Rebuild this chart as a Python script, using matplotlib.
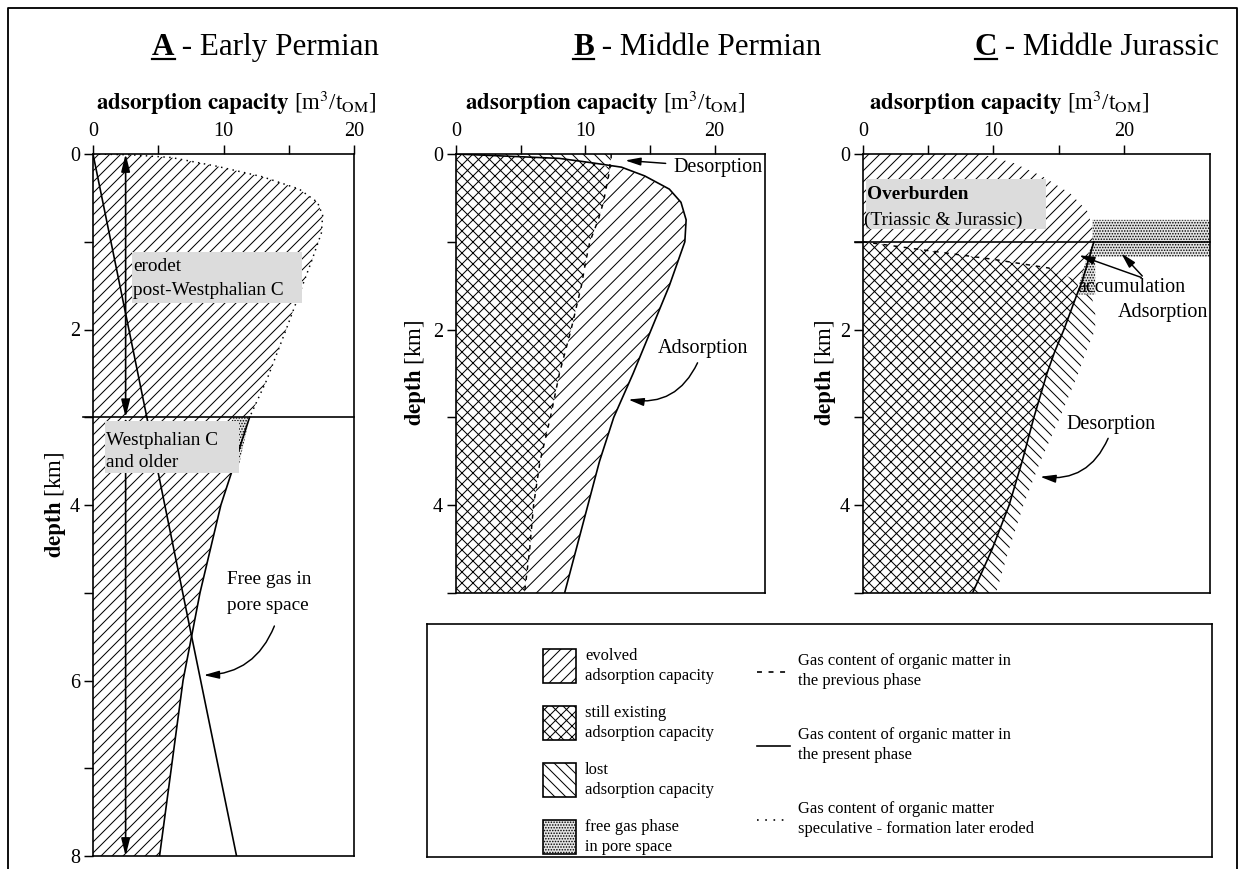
import numpy as np
import matplotlib.pyplot as plt
from matplotlib.lines import Line2D
from matplotlib.patches import Rectangle

plt.rcParams['font.family'] = ['Liberation Serif', 'DejaVu Serif']
plt.rcParams['mathtext.fontset'] = 'stix'
plt.rcParams['hatch.linewidth'] = 0.55

DPI = 132
W, H = 1243, 869

# ---- A: Early Permian ----
A_SPEC_DEPTH = [0, 0.01, 0.04, 0.14, 0.26, 0.40, 0.55, 0.70, 0.90, 1.20, 1.44, 2.0, 2.58, 3.0]
A_SPEC_CAP = [0, 3.0, 6.0, 9.5, 13.0, 15.8, 17.2, 17.6, 17.5, 16.8, 16.2, 14.8, 13.3, 12.0]
A_PRES_DEPTH = [3.0, 4.0, 5.0, 6.0, 7.0, 8.0]
A_PRES_CAP = [12.0, 9.8, 8.2, 6.9, 6.0, 5.1]
A_FREEGAS_DEPTH = [0.0, 8.0]
A_FREEGAS_CAP = [0.0, 11.0]
A_STIPPLE_CAP = [10.6, 12.0, 11.1]
A_STIPPLE_DEPTH = [3.0, 3.0, 3.6]
A_BASE_ERODED = 3.0
A_ARROW_X = 2.5

# ---- B: Middle Permian ----
B_DEPTH = [0, 0.05, 0.1, 0.15, 0.25, 0.4, 0.55, 0.75, 1.0, 1.25, 1.5, 2.0, 2.5, 3.0, 3.5, 4.0, 4.5, 5.0]
B_PRESENT = [0, 8.0, 10.5, 12.8, 14.6, 16.5, 17.4, 17.8, 17.7, 17.1, 16.5, 15.1, 13.7, 12.2, 11.1, 10.2, 9.3, 8.4]
B_PREVIOUS = [12.0, 12.0, 11.9, 11.9, 11.8, 11.6, 11.4, 11.0, 10.35, 10.0, 9.7, 8.9, 8.0, 7.3, 6.5, 6.0, 5.7, 5.3]

# ---- C: Middle Jurassic ----
C_TOP_DEPTH = [0, 0.1, 0.25, 0.45, 0.65, 0.85, 1.0]
C_TOP_PRESENT = [9.0, 11.5, 13.7, 15.9, 17.2, 17.6, 17.7]
C_DEPTH = [1.0, 1.1, 1.2, 1.3, 1.45, 1.6, 1.8, 2.0, 2.25, 2.5, 3.0, 3.5, 4.0, 4.5, 5.0]
C_PRESENT = [17.7, 17.5, 17.3, 17.1, 16.8, 16.4, 15.9, 15.4, 14.7, 14.1, 13.1, 12.2, 11.2, 9.9, 8.4]
C_PREVIOUS = [0.0, 5.0, 10.0, 14.3, 16.5, 17.5, 17.8, 17.8, 17.1, 16.5, 15.1, 13.6, 12.3, 11.2, 10.2]
C_FREEGAS_CAP = [17.6, 26.6, 26.6, 17.8, 17.8, 16.4, 16.9, 17.6]
C_FREEGAS_DEPTH = [0.75, 0.75, 1.17, 1.17, 1.6, 1.6, 1.3, 1.0]
C_OVERBURDEN_BASE = 1.0

TITLES = [("A", "Early Permian"), ("B", "Middle Permian"), ("C", "Middle Jurassic")]
XLABEL = r"$\mathbf{adsorption\ capacity}$ [m$^3$/t$_{\mathrm{OM}}$]"
YLABEL = r"$\mathbf{depth}$ [km]"

HATCH_EVOLVED = '////'
HATCH_EVOLVED_B = '///'
HATCH_STILL = 'xxxx'
HATCH_LOST = '\\\\\\\\'
HATCH_FREE = '........'
FREE_FACE = '#e4e4e4'
GRAY_BOX = '#dcdcdc'


def px_rect(x0, y0, x1, y1):
    return [x0 / W, 1 - y1 / H, (x1 - x0) / W, (y1 - y0) / H]


def style_axes(ax, xmax, dmax):
    ax.set_xlim(0, xmax)
    ax.set_ylim(dmax, 0)
    ax.xaxis.tick_top()
    ax.set_xticks([0, 5, 10, 15, 20])
    ax.set_xticklabels(['0', '', '10', '', '20'])
    ticks = list(range(0, int(dmax) + 1))
    ax.set_yticks(ticks)
    ax.set_yticklabels([str(t) if t % 2 == 0 else '' for t in ticks])
    ax.tick_params(direction='out', length=5, width=0.8, labelsize=11, pad=2)
    for s in ax.spines.values():
        s.set_linewidth(0.9)


def hfill(ax, depth, x1, x2, hatch, face='white', **kw):
    ax.fill_betweenx(depth, x1, x2, facecolor=face, edgecolor='black',
                     hatch=hatch, linewidth=0, **kw)


def curved_arrow(ax, start, end, rad):
    ax.annotate('', xy=end, xytext=start,
                arrowprops=dict(arrowstyle='-|>,head_length=0.7,head_width=0.18',
                                color='black', lw=0.8,
                                connectionstyle=f'arc3,rad={rad}'))


fig = plt.figure(figsize=(W / DPI, H / DPI), dpi=DPI)

axA = fig.add_axes(px_rect(93, 154, 354, 856))
axB = fig.add_axes(px_rect(456, 154, 765, 593))
axC = fig.add_axes(px_rect(863, 154, 1210, 593))

# ---------- panel A ----------
style_axes(axA, 20, 8)
a_depth = np.concatenate([A_SPEC_DEPTH, A_PRES_DEPTH[1:]])
a_cap = np.concatenate([A_SPEC_CAP, A_PRES_CAP[1:]])
hfill(axA, a_depth, 0, a_cap, HATCH_EVOLVED)
axA.fill(A_STIPPLE_CAP, A_STIPPLE_DEPTH, facecolor=FREE_FACE, edgecolor='black',
         hatch=HATCH_FREE, linewidth=0)
axA.plot(A_SPEC_CAP, A_SPEC_DEPTH, color='black', lw=0.8, ls=(0, (1, 3)))
axA.plot(A_PRES_CAP, A_PRES_DEPTH, color='black', lw=0.9)
axA.plot(A_FREEGAS_CAP, A_FREEGAS_DEPTH, color='black', lw=0.9)
axA.plot([-0.8, 20], [A_BASE_ERODED] * 2, color='black', lw=0.9, clip_on=False)
for d0, d1 in [(0, A_BASE_ERODED), (A_BASE_ERODED, 8)]:
    axA.annotate('', xy=(A_ARROW_X, d1), xytext=(A_ARROW_X, d0),
                 arrowprops=dict(arrowstyle='<|-|>,head_length=0.8,head_width=0.2',
                                 color='black', lw=0.9, shrinkA=0, shrinkB=0))
axA.add_patch(Rectangle((3.0, 1.12), 13.0, 0.58, facecolor=GRAY_BOX, edgecolor='none', zorder=3))
axA.text(3.1, 1.28, "erodet", fontsize=10.5, va='center', zorder=4)
axA.text(3.1, 1.55, "post-Westphalian C", fontsize=10.5, va='center', zorder=4)
axA.add_patch(Rectangle((0.9, 3.04), 10.3, 0.6, facecolor=GRAY_BOX, edgecolor='none', zorder=3))
axA.text(1.0, 3.26, "Westphalian C", fontsize=10.5, va='center', zorder=4)
axA.text(1.0, 3.52, "and older", fontsize=10.5, va='center', zorder=4)
axA.text(10.3, 4.85, "Free gas in", fontsize=10.5, va='center')
axA.text(10.3, 5.14, "pore space", fontsize=10.5, va='center')
curved_arrow(axA, (14.0, 5.34), (8.2, 5.94), -0.35)

# ---------- panel B ----------
style_axes(axB, 23.9, 5)
b_pres = np.array(B_PRESENT)
b_prev = np.array(B_PREVIOUS)
hfill(axB, B_DEPTH, b_prev, b_pres, HATCH_EVOLVED_B, where=b_pres >= b_prev, interpolate=True)
hfill(axB, B_DEPTH, b_pres, b_prev, HATCH_LOST, where=b_prev >= b_pres, interpolate=True)
hfill(axB, B_DEPTH, 0, np.minimum(b_pres, b_prev), HATCH_STILL)
axB.plot(b_prev, B_DEPTH, color='black', lw=0.8, ls=(0, (3, 4)))
axB.plot(b_pres, B_DEPTH, color='black', lw=0.9)
axB.text(16.8, 0.15, "Desorption", fontsize=11, va='center')
axB.annotate('', xy=(12.8, 0.07), xytext=(16.5, 0.11),
             arrowprops=dict(arrowstyle='-|>,head_length=0.7,head_width=0.18',
                             color='black', lw=0.8))
axB.text(15.6, 2.21, "Adsorption", fontsize=11, va='center')
curved_arrow(axB, (18.8, 2.34), (13.05, 2.79), -0.4)

# ---------- panel C ----------
style_axes(axC, 26.6, 5)
c_pres = np.array(C_PRESENT)
c_prev = np.array(C_PREVIOUS)
hfill(axC, C_TOP_DEPTH, 0, C_TOP_PRESENT, HATCH_EVOLVED)
hfill(axC, C_DEPTH, c_prev, c_pres, HATCH_EVOLVED, where=c_pres >= c_prev, interpolate=True)
hfill(axC, C_DEPTH, c_pres, c_prev, HATCH_LOST, where=c_prev >= c_pres, interpolate=True)
hfill(axC, C_DEPTH, 0, np.minimum(c_pres, c_prev), HATCH_STILL)
axC.fill(C_FREEGAS_CAP, C_FREEGAS_DEPTH, facecolor=FREE_FACE, edgecolor='black',
         hatch=HATCH_FREE, linewidth=0)
axC.plot(c_prev[:4], C_DEPTH[:4], color='black', lw=0.8, ls=(0, (3, 4)))
axC.plot(c_pres, C_DEPTH, color='black', lw=0.9)
axC.plot([-0.6, 26.6], [C_OVERBURDEN_BASE] * 2, color='black', lw=0.9, clip_on=False)
axC.add_patch(Rectangle((0.2, 0.28), 13.8, 0.57, facecolor=GRAY_BOX, edgecolor='none', zorder=3))
axC.text(0.3, 0.46, "Overburden", fontsize=10.5, fontweight='bold', va='center', zorder=4)
axC.text(0.1, 0.75, "(Triassic & Jurassic)", fontsize=10.5, va='center', zorder=4)
axC.text(16.4, 1.52, "accumulation", fontsize=11, va='center')
axC.text(19.5, 1.8, "Adsorption", fontsize=11, va='center')
for tip in [(16.3, 1.14), (19.6, 1.1)]:
    axC.annotate('', xy=tip, xytext=(21.6, 1.42),
                 arrowprops=dict(arrowstyle='-|>,head_length=0.7,head_width=0.18',
                                 color='black', lw=0.8))
axC.text(15.6, 3.08, "Desorption", fontsize=11, va='center')
curved_arrow(axC, (18.9, 3.2), (13.3, 3.67), -0.4)

# ---------- titles and axis labels ----------
renderer = fig.canvas.get_renderer()
for (letter, rest), x0 in zip(TITLES, [152, 573, 975]):
    t = fig.text(x0 / W, 1 - 55 / H, letter, fontsize=17, fontweight='bold', va='baseline')
    bb = t.get_window_extent(renderer).transformed(fig.transFigure.inverted())
    fig.text(bb.x1, 1 - 55 / H, " - " + rest, fontsize=17, va='baseline')
    fig.add_artist(Line2D([bb.x0, bb.x1], [1 - 59 / H] * 2, color='black', lw=1.2,
                          transform=fig.transFigure))

for cx in [236, 605, 1009]:
    fig.text(cx / W, 1 - 103 / H, XLABEL, fontsize=12.5, ha='center', va='center')
for cx, cy in [(55, 505), (415, 373), (825, 373)]:
    fig.text(cx / W, 1 - cy / H, YLABEL, fontsize=12.5, ha='center', va='center', rotation=90)

# ---------- legend ----------
axL = fig.add_axes(px_rect(427, 624, 1212, 857))
axL.set_xlim(427, 1212)
axL.set_ylim(857, 624)
axL.set_xticks([])
axL.set_yticks([])
for s in axL.spines.values():
    s.set_linewidth(0.9)

LEG_FILL_LABELS = ["evolved\nadsorption capacity", "still existing\nadsorption capacity",
                   "lost\nadsorption capacity", "free gas phase\nin pore space"]
LEG_FILL_HATCH = [HATCH_EVOLVED, HATCH_STILL, HATCH_LOST, HATCH_FREE]
LEG_FILL_FACE = ['white', 'white', 'white', FREE_FACE]
LEG_LINE_LABELS = ["Gas content of organic matter in\nthe previous phase",
                   "Gas content of organic matter in\nthe present phase",
                   "Gas content of organic matter\nspeculative - formation later eroded"]
LEG_LINE_STYLES = [(0, (3, 4)), '-', (0, (1, 4))]

for i, (lab, hatch, face) in enumerate(zip(LEG_FILL_LABELS, LEG_FILL_HATCH, LEG_FILL_FACE)):
    y0 = 649 + i * 57
    axL.add_patch(Rectangle((543, y0), 33, 34, facecolor=face, edgecolor='black',
                            hatch=hatch, linewidth=0.9))
    axL.text(585, y0 + 17, lab, fontsize=9, va='center', linespacing=1.35)
for i, (lab, ls) in enumerate(zip(LEG_LINE_LABELS, LEG_LINE_STYLES)):
    yc = 672 + i * 74
    axL.plot([757, 790], [yc, yc], color='black', lw=0.9, ls=ls)
    axL.text(798, yc - 1, lab, fontsize=9, va='center', linespacing=1.35)

# ---------- figure frame ----------
fx0, fx1, fy1 = 8 / W, 1237 / W, 1 - 8 / H
fig.add_artist(Line2D([fx0, fx0, fx1, fx1], [0, fy1, fy1, 0], color='black', lw=1.0,
                      transform=fig.transFigure))

fig.savefig("out.png", dpi=DPI)
